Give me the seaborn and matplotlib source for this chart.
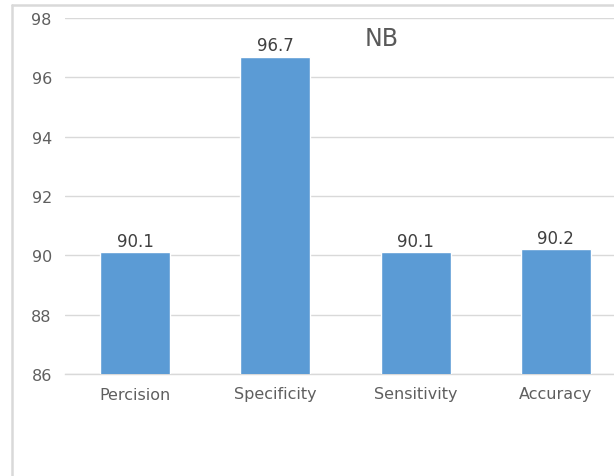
import matplotlib
matplotlib.use("Agg")
import matplotlib.pyplot as plt
import seaborn as sns
import pandas as pd
from matplotlib.lines import Line2D

categories = ["Percision", "Specificity", "Sensitivity", "Accuracy"]
values = [90.1, 96.7, 90.1, 90.2]
yticks = [86, 88, 90, 92, 94, 96, 98]
title = "NB"

sns.set_theme(style="white")
plt.rcParams['font.family'] = ['DejaVu Sans']

df = pd.DataFrame({"metric": categories, "value": values})

fig = plt.figure(figsize=(6.14, 4.77), dpi=100)
W, H = 614, 477
ax = fig.add_axes([65 / W, 1 - 375 / H, (626 - 65) / W, (375 - 19) / H])

sns.barplot(data=df, x="metric", y="value", color="#5B9BD5", width=0.5,
            saturation=1, ax=ax, zorder=3)
ax.set_ylim(86, 98)
ax.set_xlim(-0.5, 3.5)
ax.set_yticks(yticks)
ax.set_yticklabels([str(t) for t in yticks], color="#5f5f5f", fontsize=11.5)
ax.set_xticklabels(categories, color="#5f5f5f", fontsize=11.5)
ax.set_xlabel("")
ax.set_ylabel("")
ax.yaxis.grid(True, color="#D9D9D9", linewidth=1, zorder=0)
ax.tick_params(axis="y", length=0, pad=9.5)
ax.tick_params(axis="x", length=0, pad=9)
for s in ["top", "right", "left"]:
    ax.spines[s].set_visible(False)
ax.spines["bottom"].set_color("#D9D9D9")
ax.spines["bottom"].set_linewidth(1)

for c in ax.containers:
    ax.bar_label(c, labels=[f"{v:.1f}" for v in values], color="#404040",
                 fontsize=12, padding=2)

ax.text(382 / W, 1 - 39 / H, title, transform=fig.transFigure, ha="center",
        va="center", fontsize=17, color="#595959")

# chart frame (top and left borders)
fig.add_artist(Line2D([12 / W, 1], [1 - 6 / H, 1 - 6 / H], transform=fig.transFigure,
                      color="#D9D9D9", linewidth=1.8))
fig.add_artist(Line2D([12 / W, 12 / W], [0, 1 - 6 / H], transform=fig.transFigure,
                      color="#D9D9D9", linewidth=1.8))

fig.savefig("out.png", dpi=100)
